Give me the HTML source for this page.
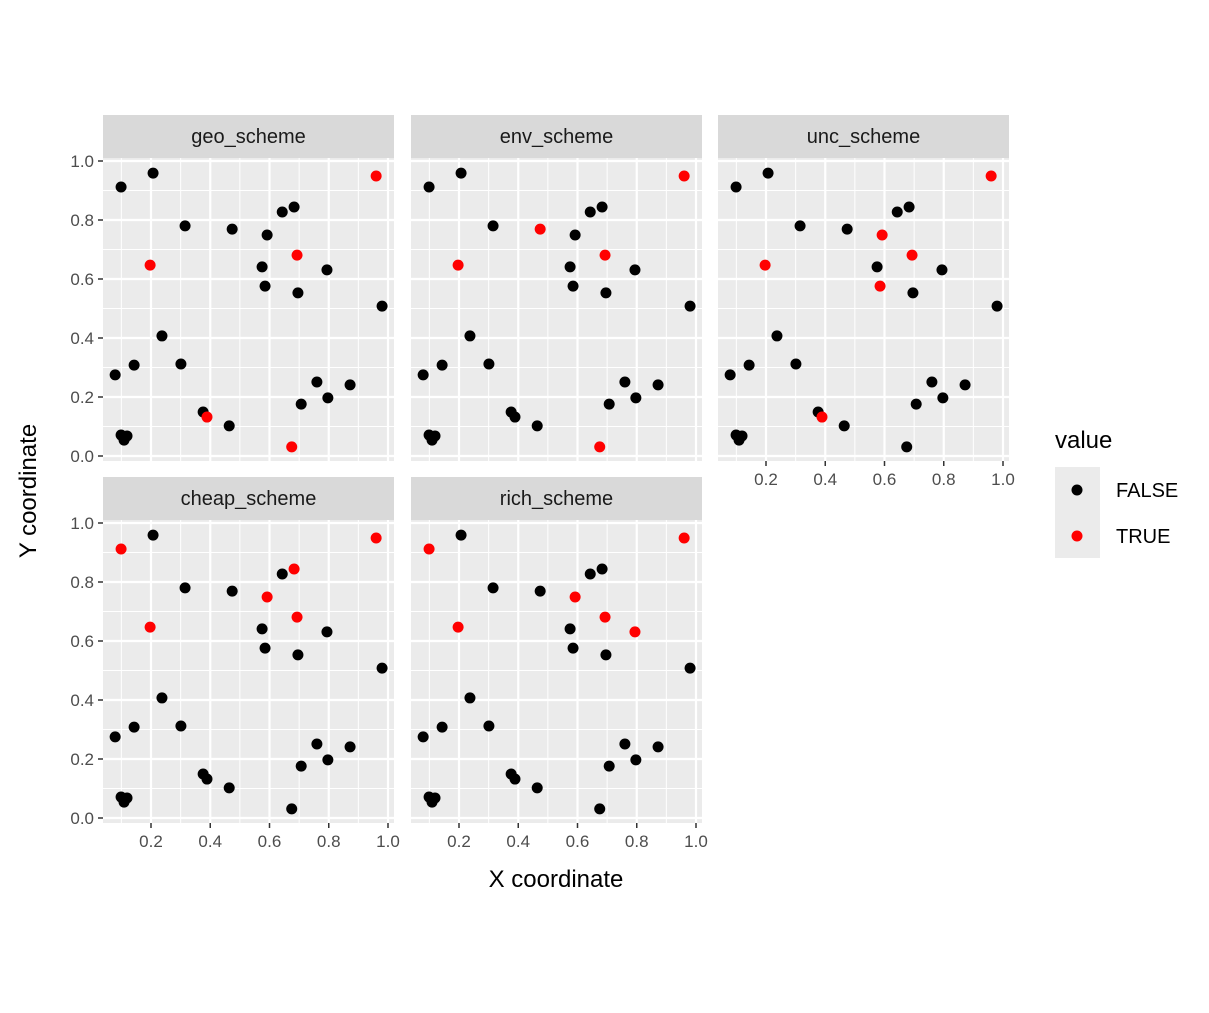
<!DOCTYPE html>
<html><head><meta charset="utf-8"><style>
body{margin:0;background:#fff;}
svg text{font-family:"Liberation Sans","DejaVu Sans",sans-serif;}
</style></head><body>
<svg id="chart" width="1209" height="1008" xmlns="http://www.w3.org/2000/svg"></svg>
<script>
const xs=[0.099,0.207,0.960,0.315,0.474,0.643,0.683,0.592,0.197,0.693,0.575,0.585,0.794,0.696,0.980,0.237,0.143,0.301,0.079,0.760,0.872,0.797,0.707,0.376,0.389,0.464,0.099,0.119,0.109,0.675];
const ys=[0.912,0.959,0.949,0.780,0.769,0.827,0.844,0.749,0.647,0.681,0.641,0.576,0.631,0.553,0.508,0.407,0.308,0.312,0.275,0.251,0.241,0.197,0.176,0.149,0.132,0.102,0.071,0.068,0.054,0.031];
const panels=["geo_scheme","env_scheme","unc_scheme","cheap_scheme","rich_scheme"];
const trueIdx=[[2,8,9,24,29],[2,8,4,9,29],[2,8,7,9,11,24],[0,8,2,6,7,9],[0,8,2,7,9,12]];
const ticks=[0.2,0.4,0.6,0.8,1.0];
const tickLabels=["0.2","0.4","0.6","0.8","1.0"];
const yTicks=[0,0.2,0.4,0.6,0.8,1.0];
const yTickLabels=["0.0","0.2","0.4","0.6","0.8","1.0"];

const svg=document.getElementById('chart');
const NS="http://www.w3.org/2000/svg";
function mk(t,a,p){const e=document.createElementNS(NS,t);for(const k in a)e.setAttribute(k,a[k]);(p||svg).appendChild(e);return e;}
const colX=[103,411,718], rowY=[158,520], PW=291, PH=303;
const sx=296.25, sy=295;
const x0off=-11.25; // px of x=0 relative panel left
function X(c,v){return colX[c]+x0off+v*sx;}
function Y(r,v){return rowY[r]+298-v*sy;}

panels.forEach((name,i)=>{
  const c=i%3, r=Math.floor(i/3);
  const g=mk('g',{});
  
  
  mk('rect',{x:colX[c],y:rowY[r],width:PW,height:PH,fill:'#ebebeb'},g);
  const st=mk('rect',{x:colX[c],y:rowY[r]-43,width:PW,height:43,fill:'#d9d9d9'},g);
  
  
  const stt=mk('text',{x:colX[c]+PW/2,y:rowY[r]-15,'text-anchor':'middle','font-size':'20',fill:'#1a1a1a'},g);
  stt.textContent=name;
  
  
  for(let v=0.1;v<1.01;v+=0.2){
    mk('line',{x1:X(c,v),x2:X(c,v),y1:rowY[r],y2:rowY[r]+PH,stroke:'#fff','stroke-width':1},g);
    mk('line',{x1:colX[c],x2:colX[c]+PW,y1:Y(r,v),y2:Y(r,v),stroke:'#fff','stroke-width':1},g);
  }
  ticks.forEach(v=>mk('line',{x1:X(c,v),x2:X(c,v),y1:rowY[r],y2:rowY[r]+PH,stroke:'#fff','stroke-width':2.2},g));
  yTicks.forEach(v=>mk('line',{x1:colX[c],x2:colX[c]+PW,y1:Y(r,v),y2:Y(r,v),stroke:'#fff','stroke-width':2.2},g));
  if(c===0){
    yTicks.forEach((v,k)=>{
      mk('line',{x1:colX[c]-5,x2:colX[c],y1:Y(r,v),y2:Y(r,v),stroke:'#333','stroke-width':1.5},g);
      const t=mk('text',{x:colX[c]-9,y:Y(r,v)+6,'text-anchor':'end','font-size':'17',fill:'#4d4d4d'},g);
      t.textContent=yTickLabels[k];
      
      
    });
  }
  if(r===1||c===2){
    ticks.forEach((v,k)=>{
      mk('line',{x1:X(c,v),x2:X(c,v),y1:rowY[r]+PH,y2:rowY[r]+PH+5,stroke:'#333','stroke-width':1.5},g);
      const t=mk('text',{x:X(c,v),y:rowY[r]+PH+24,'text-anchor':'middle','font-size':'17',fill:'#4d4d4d'},g);
      t.textContent=tickLabels[k];
      
      
    });
  }
  const order=xs.map((_,k)=>k).sort((a,b)=>(trueIdx[i].includes(a)?1:0)-(trueIdx[i].includes(b)?1:0));
  order.forEach(k=>{
    const isT=trueIdx[i].includes(k);
    const p=mk('circle',{cx:X(c,xs[k]),cy:Y(r,ys[k]),r:5.5,fill:isT?'#ff0000':'#000'},g);
    
    
  });
});
const xt=mk('text',{x:556,y:887,'text-anchor':'middle','font-size':'24',fill:'#000'});
xt.textContent='X coordinate';


const yt=mk('text',{x:0,y:0,'text-anchor':'middle','font-size':'24',fill:'#000',transform:'translate(36,491) rotate(-90)'});
yt.textContent='Y coordinate';


const lg=mk('g',{});


const lt=mk('text',{x:1055,y:448,'font-size':'24',fill:'#000'},lg);
lt.textContent='value';
mk('rect',{x:1055,y:467,width:45,height:91,fill:'#ebebeb'},lg);
[['FALSE','#000',490],['TRUE','#ff0000',536]].forEach(([lab,col,y])=>{
  const e=mk('circle',{cx:1077,cy:y,r:5.5,fill:col},lg);
  
  
  const t=mk('text',{x:1116,y:y+7,'font-size':'20',fill:'#000'},lg);
  t.textContent=lab;
});
</script>
</body></html>
